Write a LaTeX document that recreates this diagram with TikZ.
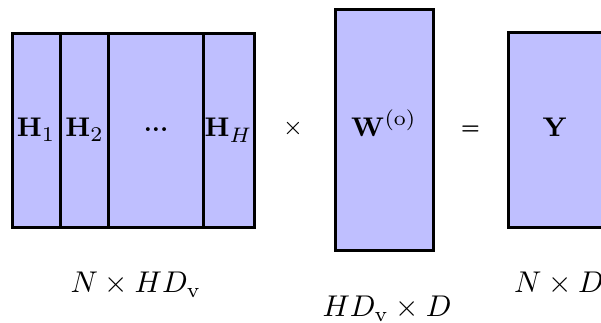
\documentclass[tikz,border=0pt]{standalone}
\usepackage{amsmath,bm}
\begin{document}
\begin{tikzpicture}[x=0.3333pt,y=-0.3333pt,
  mat/.style={draw=black,fill=blue!25,line width=1pt},
  sep/.style={draw=black,line width=1pt},
  inlab/.style={anchor=base,inner sep=0pt,font=\fontsize{9.5}{10}\selectfont},
  oplab/.style={anchor=base,inner sep=0pt},
  dimlab/.style={anchor=base,inner sep=0pt,font=\fontsize{10}{12}\selectfont}]
\useasboundingbox (0,0) rectangle (601,323);
% left matrix
\draw[mat] (12,33.5) rectangle (254,227.5);
\coordinate (s1t) at (60.2,33.5);   \coordinate (s1b) at (60.2,227.5);
\coordinate (s2t) at (108.7,33.5);  \coordinate (s2b) at (108.7,227.5);
\coordinate (s3t) at (203,33.5);    \coordinate (s3b) at (203,227.5);
\draw[sep] (s1t) -- (s1b);
\draw[sep] (s2t) -- (s2b);
\draw[sep] (s3t) -- (s3b);
\node[inlab] (h1) at (36,137) {$\mathbf{H}_1$};
\node[inlab] (h2) at (84.5,137) {$\mathbf{H}_2$};
\node[inlab,font=\fontsize{8}{9}\selectfont] (hd) at (156,132) {\textbf{...}};
\node[inlab] (hh) at (228.5,137) {$\mathbf{H}_H$};
\node[oplab,font=\fontsize{8}{9}\selectfont] (times) at (293,134.5) {$\times$};
% W
\draw[mat] (335.5,9.7) rectangle (433,250.8);
\node[inlab] (w) at (384,137) {$\mathbf{W}^{(\mathrm{o})}$};
\node[oplab,font=\fontsize{6.5}{7}\selectfont] (eq) at (470.5,134) {$\bm{=}$};
% Y
\draw[mat] (508.7,33) rectangle (606,228);
\node[inlab] (y) at (555,137) {$\mathbf{Y}$};
% dimension labels
\node[dimlab] (d1) at (136,292.5) {$N \times HD_{\mathrm{v}}$};
\node[dimlab] (d2) at (387,316.5) {$HD_{\mathrm{v}} \times D$};
\node[dimlab] (d3) at (559,292.5) {$N \times D$};
\end{tikzpicture}
\end{document}
